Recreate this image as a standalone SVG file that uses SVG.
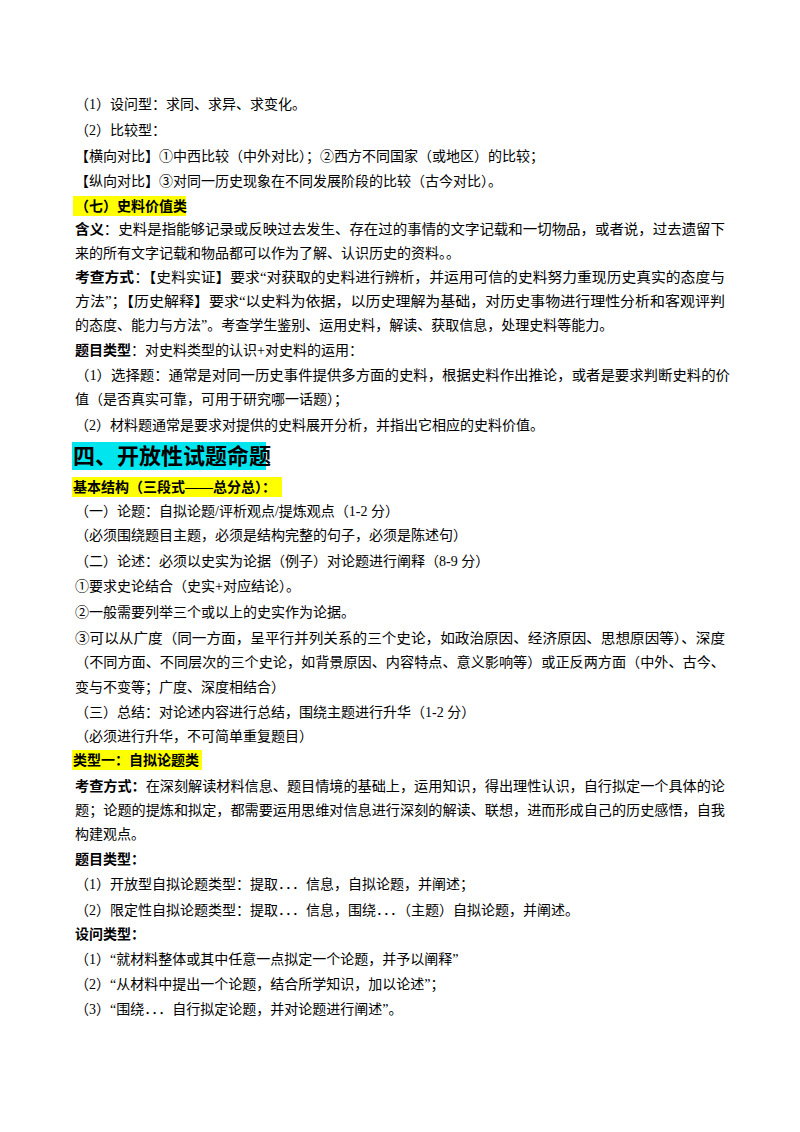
<svg xmlns="http://www.w3.org/2000/svg" width="800" height="1132" viewBox="0 0 800 1132">
<style>
text{font-family:"Liberation Serif","Noto Sans CJK SC",serif;font-size:14px;fill:#000}
.b{font-weight:bold}
.h{font-size:22px;font-weight:bold}
</style>
<rect width="800" height="1132" fill="#fff"/>
<rect x="73" y="196" width="113" height="20" fill="#ffff00"/>
<rect x="72" y="442" width="194" height="28" fill="#00e5ee"/>
<rect x="72" y="477" width="210" height="20" fill="#ffff00"/>
<rect x="72" y="750" width="130" height="20" fill="#ffff00"/>
<text x="75" y="109">（1）设问型：求同、求异、求变化。</text>
<text x="75" y="135">（2）比较型：</text>
<text x="75" y="161">【横向对比】①中西比较（中外对比）；②西方不同国家（或地区）的比较；</text>
<text x="75" y="186">【纵向对比】③对同一历史现象在不同发展阶段的比较（古今对比）。</text>
<text x="75" y="211" class="b">（七）史料价值类</text>
<text x="75" y="234" textLength="650" lengthAdjust="spacingAndGlyphs"><tspan class="b">含义</tspan>：史料是指能够记录或反映过去发生、存在过的事情的文字记载和一切物品，或者说，过去遗留下</text>
<text x="75" y="258">来的所有文字记载和物品都可以作为了解、认识历史的资料。。</text>
<text x="75" y="282" textLength="650" lengthAdjust="spacingAndGlyphs"><tspan class="b">考查方式</tspan>：【史料实证】要求“对获取的史料进行辨析，并运用可信的史料努力重现历史真实的态度与</text>
<text x="75" y="306" textLength="650" lengthAdjust="spacingAndGlyphs">方法”；【历史解释】要求“以史料为依据，以历史理解为基础，对历史事物进行理性分析和客观评判</text>
<text x="75" y="330">的态度、能力与方法”。考查学生鉴别、运用史料，解读、获取信息，处理史料等能力。</text>
<text x="75" y="355"><tspan class="b">题目类型</tspan>：对史料类型的认识+对史料的运用：</text>
<text x="75" y="380" textLength="655" lengthAdjust="spacingAndGlyphs">（1）选择题：通常是对同一历史事件提供多方面的史料，根据史料作出推论，或者是要求判断史料的价</text>
<text x="75" y="404">值（是否真实可靠，可用于研究哪一话题）；</text>
<text x="75" y="430">（2）材料题通常是要求对提供的史料展开分析，并指出它相应的史料价值。</text>
<text x="73" y="464" class="h">四、开放性试题命题</text>
<text x="73" y="492" class="b">基本结构（三段式——总分总）：</text>
<text x="75" y="516">（一）论题：自拟论题/评析观点/提炼观点（1-2 分）</text>
<text x="75" y="540">（必须围绕题目主题，必须是结构完整的句子，必须是陈述句）</text>
<text x="75" y="566">（二）论述：必须以史实为论据（例子）对论题进行阐释（8-9 分）</text>
<text x="75" y="591">①要求史论结合（史实+对应结论）。</text>
<text x="75" y="617">②一般需要列举三个或以上的史实作为论据。</text>
<text x="75" y="643" textLength="650" lengthAdjust="spacingAndGlyphs">③可以从广度（同一方面，呈平行并列关系的三个史论，如政治原因、经济原因、思想原因等）、深度</text>
<text x="75" y="667" textLength="650" lengthAdjust="spacingAndGlyphs">（不同方面、不同层次的三个史论，如背景原因、内容特点、意义影响等）或正反两方面（中外、古今、</text>
<text x="75" y="692">变与不变等；广度、深度相结合）</text>
<text x="75" y="717">（三）总结：对论述内容进行总结，围绕主题进行升华（1-2 分）</text>
<text x="75" y="741">（必须进行升华，不可简单重复题目）</text>
<text x="73" y="765" class="b">类型一：自拟论题类</text>
<text x="75" y="791" textLength="650" lengthAdjust="spacingAndGlyphs"><tspan class="b">考查方式：</tspan>在深刻解读材料信息、题目情境的基础上，运用知识，得出理性认识，自行拟定一个具体的论</text>
<text x="75" y="815" textLength="650" lengthAdjust="spacingAndGlyphs">题；论题的提炼和拟定，都需要运用思维对信息进行深刻的解读、联想，进而形成自己的历史感悟，自我</text>
<text x="75" y="839">构建观点。</text>
<text x="75" y="864" class="b">题目类型：</text>
<text x="75" y="889">（1）开放型自拟论题类型：提取．．．信息，自拟论题，并阐述；</text>
<text x="75" y="915">（2）限定性自拟论题类型：提取．．．信息，围绕．．．（主题）自拟论题，并阐述。</text>
<text x="75" y="939" class="b">设问类型：</text>
<text x="75" y="964">（1）“就材料整体或其中任意一点拟定一个论题，并予以阐释”</text>
<text x="75" y="989">（2）“从材料中提出一个论题，结合所学知识，加以论述”；</text>
<text x="75" y="1014">（3）“围绕．．．自行拟定论题，并对论题进行阐述”。</text>
</svg>
